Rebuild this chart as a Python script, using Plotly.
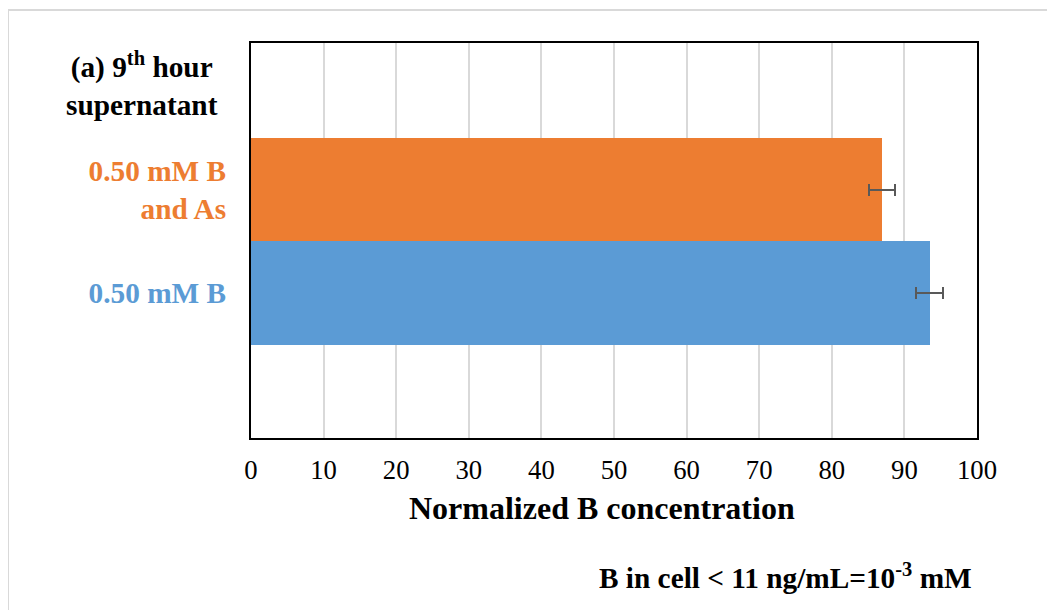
import plotly.graph_objects as go

series_names = ["0.50 mM B", "0.50 mM B<br>and As"]
values = [93.5, 86.9]
errors = [1.85, 1.8]
colors = ["#5B9BD5", "#ED7D31"]
x_ticks = [0, 10, 20, 30, 40, 50, 60, 70, 80, 90, 100]

W, H = 1055, 610
OFF = 8  # page body margin
# plot area in page pixels
L, R, T, B = 251, 977, 43, 438

def px(x):
    return (x - L) / (R - L)

def py(y):
    return (B - y) / (B - T)

fig = go.Figure()
for i, (name, v, e, c) in enumerate(zip(series_names, values, errors, colors)):
    fig.add_trace(go.Bar(
        x=[v], y=[i], orientation="h", width=1.0,
        marker=dict(color=c, line=dict(width=0)),
        error_x=dict(type="data", array=[e], color="#595959", thickness=2, width=6),
        name=name, showlegend=False,
    ))

serif = "Liberation Serif, Times New Roman, serif"
ticktext = [f"<b><span style='color:{c}'>{n}</span></b>" for n, c in zip(series_names, colors)]

fig.update_layout(
    width=W, height=H,
    margin=dict(l=L - OFF, r=W - (R - OFF), t=T - OFF, b=H - (B - OFF)),
    paper_bgcolor="white", plot_bgcolor="white",
    font=dict(family=serif, color="black"),
    bargap=0,
    xaxis=dict(
        range=[0, 100], tickvals=x_ticks, ticks="", showgrid=True,
        gridcolor="#d9d9d9", gridwidth=2, zeroline=False,
        showline=True, linecolor="black", linewidth=2, mirror=True,
        tickfont=dict(size=26.7, family=serif, color="black"), ticklabelstandoff=7,
    ),
    yaxis=dict(
        range=[-1.40, 2.415], tickvals=[0, 1], ticktext=ticktext, ticks="",
        showgrid=False, zeroline=False,
        showline=True, linecolor="black", linewidth=2, mirror=True,
        tickfont=dict(size=29.3, family=serif), ticklabelstandoff=17,
    ),
)

fig.add_shape(type="path", xref="paper", yref="paper",
              path=f"M {px(8)} {py(640)} L {px(8)} {py(10)} L {px(1080)} {py(10)}",
              line=dict(color="#d9d9d9", width=2))

fig.add_annotation(xref="paper", yref="paper", x=px(142), y=py(84),
                   xanchor="center", yanchor="middle",
                   text="<b>(a) 9<sup>th</sup> hour<br>supernatant</b>", showarrow=False,
                   font=dict(size=29.3, family=serif, color="black"), align="center")
fig.add_annotation(xref="paper", yref="paper", x=px(602), y=py(508),
                   xanchor="center", yanchor="middle",
                   text="<b>Normalized B concentration</b>", showarrow=False,
                   font=dict(size=32, family=serif, color="black"))
fig.add_annotation(xref="paper", yref="paper", x=px(785), y=py(576),
                   xanchor="center", yanchor="middle",
                   text="<b>B in cell < 11 ng/mL=10<sup>-3</sup> mM</b>", showarrow=False,
                   font=dict(size=29.3, family=serif, color="black"))

fig.write_html("out.html")
